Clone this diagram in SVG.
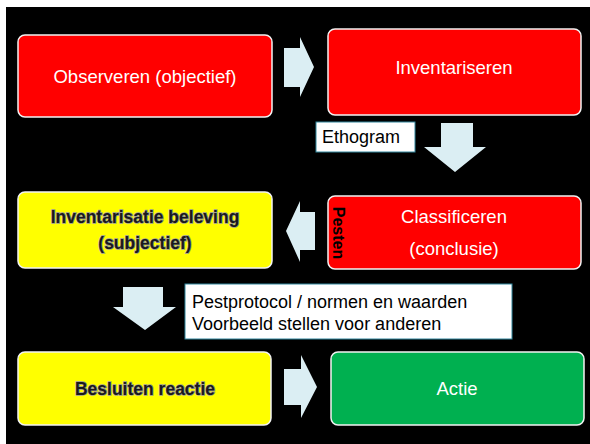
<svg xmlns="http://www.w3.org/2000/svg" width="590" height="444" viewBox="0 0 590 444">
<style>
.box{stroke:#f2f2f2;stroke-width:1.5}
.red{fill:#ff0000}
.yel{fill:#ffff00}
.grn{fill:#00b050}
.arr{fill:#dbeef3}
.note{fill:#ffffff;stroke:#31859c;stroke-width:1}
.wt{font-family:"Liberation Sans",Arial,sans-serif;font-size:18.5px;fill:#ffffff;text-anchor:middle;dominant-baseline:central}
.bt{font-family:"Liberation Sans",Arial,sans-serif;font-size:17.5px;fill:#1a1a1a;text-anchor:middle;dominant-baseline:central;stroke:#9a9a9a;stroke-width:1.4;paint-order:stroke;font-weight:bold}
.nt{font-family:"Liberation Sans",Arial,sans-serif;font-size:18px;fill:#000000;dominant-baseline:central}
</style>
<rect x="0" y="0" width="590" height="444" fill="#ffffff"/>
<rect x="6" y="7" width="584" height="437" fill="#000000"/>
<g id="connectors">
<polygon class="arr" points="284,48 300,48 300,37 314,67 300,97 300,87 284,87"/>
<polygon class="arr" points="441,123 473,123 473,147 486,147 455,172 424,147 441,147"/>
<polygon class="arr" points="315,212 300,212 300,201 286,231 300,262 300,250 315,250"/>
<polygon class="arr" points="123,287 163,287 163,307 176,307 145,330 113,307 123,307"/>
<polygon class="arr" points="284,369 301,369 301,355 317,387 301,418 301,405 284,405"/>
</g>
<g id="observeren">
<rect class="box red" x="18" y="35" width="254" height="82" rx="7"/>
<text class="wt" x="145" y="76">Observeren (objectief)</text>
</g>
<g id="inventariseren">
<rect class="box red" x="328" y="29" width="253" height="86" rx="7"/>
<text class="wt" x="454" y="67">Inventariseren</text>
</g>
<g id="ethogram">
<rect class="note" x="316" y="122" width="99" height="30"/>
<text class="nt" x="322" y="137">Ethogram</text>
</g>
<g id="inventarisatie">
<rect class="box yel" x="18" y="192" width="254" height="76" rx="7"/>
<text class="bt" x="145" y="217">Inventarisatie beleving</text>
<text class="bt" x="145" y="243">(subjectief)</text>
</g>
<g id="classificeren">
<rect class="box red" x="328" y="196" width="253" height="73" rx="7"/>
<text class="wt" x="454" y="216">Classificeren</text>
<text class="wt" x="454" y="248">(conclusie)</text>
<text transform="translate(338,233) rotate(90)" font-family="'Liberation Sans',Arial,sans-serif" font-size="16" font-weight="bold" fill="#000000" text-anchor="middle" dominant-baseline="central">Pesten</text>
</g>
<g id="pestprotocol">
<rect class="note" x="185" y="284" width="327" height="55"/>
<text class="nt" x="192" y="302">Pestprotocol / normen en waarden</text>
<text class="nt" x="192" y="324">Voorbeeld stellen voor anderen</text>
</g>
<g id="besluiten">
<rect class="box yel" x="18" y="352" width="253" height="73" rx="7"/>
<text class="bt" x="145" y="389">Besluiten reactie</text>
</g>
<g id="actie">
<rect class="box grn" x="331" y="352" width="253" height="73" rx="7"/>
<text class="wt" x="457" y="388">Actie</text>
</g>
</svg>
